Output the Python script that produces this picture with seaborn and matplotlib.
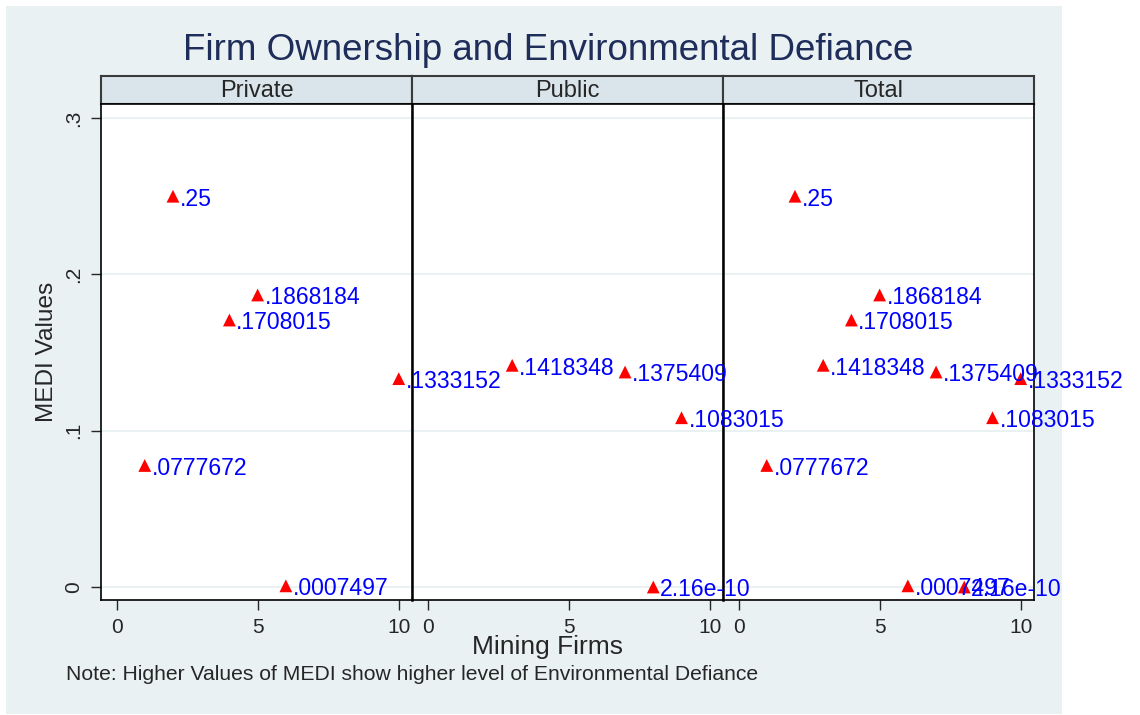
import matplotlib
matplotlib.use('Agg')
import matplotlib.pyplot as plt
import pandas as pd
import seaborn as sns
from matplotlib.patches import Rectangle

# --- data ---
private_firm = [1, 2, 4, 5, 6, 10]
private_medi = [0.0777672, 0.25, 0.1708015, 0.1868184, 0.0007497, 0.1333152]
private_text = ['.0777672', '.25', '.1708015', '.1868184', '.0007497', '.1333152']

public_firm = [3, 7, 8, 9]
public_medi = [0.1418348, 0.1375409, 2.16e-10, 0.1083015]
public_text = ['.1418348', '.1375409', '2.16e-10', '.1083015']

panels = ['Private', 'Public', 'Total']
y_ticks = [0, 0.1, 0.2, 0.3]
y_tick_labels = ['0', '.1', '.2', '.3']
x_ticks = [0, 5, 10]

df_private = pd.DataFrame({'firm': private_firm, 'medi': private_medi, 'lab': private_text})
df_public = pd.DataFrame({'firm': public_firm, 'medi': public_medi, 'lab': public_text})
df_total = pd.concat([df_private, df_public], ignore_index=True)
frames = [df_private, df_public, df_total]

sns.set_style('white')
plt.rcParams['font.family'] = ['Liberation Sans', 'DejaVu Sans']

W, H = 1140, 715
fig = plt.figure(figsize=(W / 100, H / 100), dpi=100)
fig.patch.set_facecolor('white')

bg = '#EAF1F3'
bg_box = Rectangle((6 / W, 1 - 714 / H), (1062 - 6) / W, (714 - 6) / H,
                   transform=fig.transFigure, facecolor=bg, edgecolor='none', zorder=-10)
fig.add_artist(bg_box)

lefts = [101, 412, 723]
width = 311
top, bottom, strip_top = 104, 600, 76

for i, (name, d) in enumerate(zip(panels, frames)):
    x0 = lefts[i]
    ax = fig.add_axes([x0 / W, 1 - bottom / H, width / W, (bottom - top) / H])
    ax.set_zorder(5 - i)  # earlier panels on top so their labels spill over
    ax.set_facecolor('white')
    for y in y_ticks:
        ax.axhline(y, color=bg, lw=1.5, zorder=0)
    sns.scatterplot(data=d, x='firm', y='medi', ax=ax, marker='^', color='red',
                    s=85, edgecolor='none', zorder=3, legend=False)
    for _, r in d.iterrows():
        ax.annotate(r['lab'], (r['firm'], r['medi']), xytext=(5, -2), textcoords='offset points',
                    color='blue', fontsize=16.6, va='center', ha='left',
                    annotation_clip=False, clip_on=False, zorder=10)
    ax.set_xlim(-0.55, 10.47)
    ax.set_ylim(-0.0083, 0.309)
    ax.set_xticks(x_ticks)
    ax.set_xticklabels([str(t) for t in x_ticks], fontsize=15)
    ax.tick_params(axis='x', direction='out', length=7, width=1, pad=6, bottom=True)
    if i == 0:
        ax.set_yticks(y_ticks)
        ax.set_yticklabels(y_tick_labels, fontsize=15, rotation=90, va='center')
        ax.tick_params(axis='y', direction='out', length=7, width=1, pad=6, left=True)
        ax.set_ylabel('MEDI Values', fontsize=17.6, labelpad=4)
    else:
        ax.set_yticks([])
        ax.set_ylabel('')
    ax.set_xlabel('')
    for s in ax.spines.values():
        s.set_color('black')
        s.set_linewidth(1.2)
    ax.spines['left'].set_linewidth(1.8 if i > 0 else 1.2)

    sax = fig.add_axes([x0 / W, 1 - top / H, width / W, (top - strip_top) / H])
    sax.set_facecolor('#D9E5EB')
    sax.set_xticks([])
    sax.set_yticks([])
    for s in sax.spines.values():
        s.set_color('#3a3a3a')
        s.set_linewidth(1.5)
    sax.text(0.5, 0.45, name, ha='center', va='center', fontsize=17, transform=sax.transAxes)

fig.text(548 / W, 1 - 50 / H, 'Firm Ownership and Environmental Defiance', ha='center', va='center',
         fontsize=26.5, color='#1E2D5A')
fig.text(548 / W, 1 - 647 / H, 'Mining Firms', ha='center', va='center', fontsize=19)
fig.text(66 / W, 1 - 675 / H, 'Note: Higher Values of MEDI show higher level of Environmental Defiance',
         ha='left', va='center', fontsize=15.2)

fig.savefig('out.png', dpi=100)
